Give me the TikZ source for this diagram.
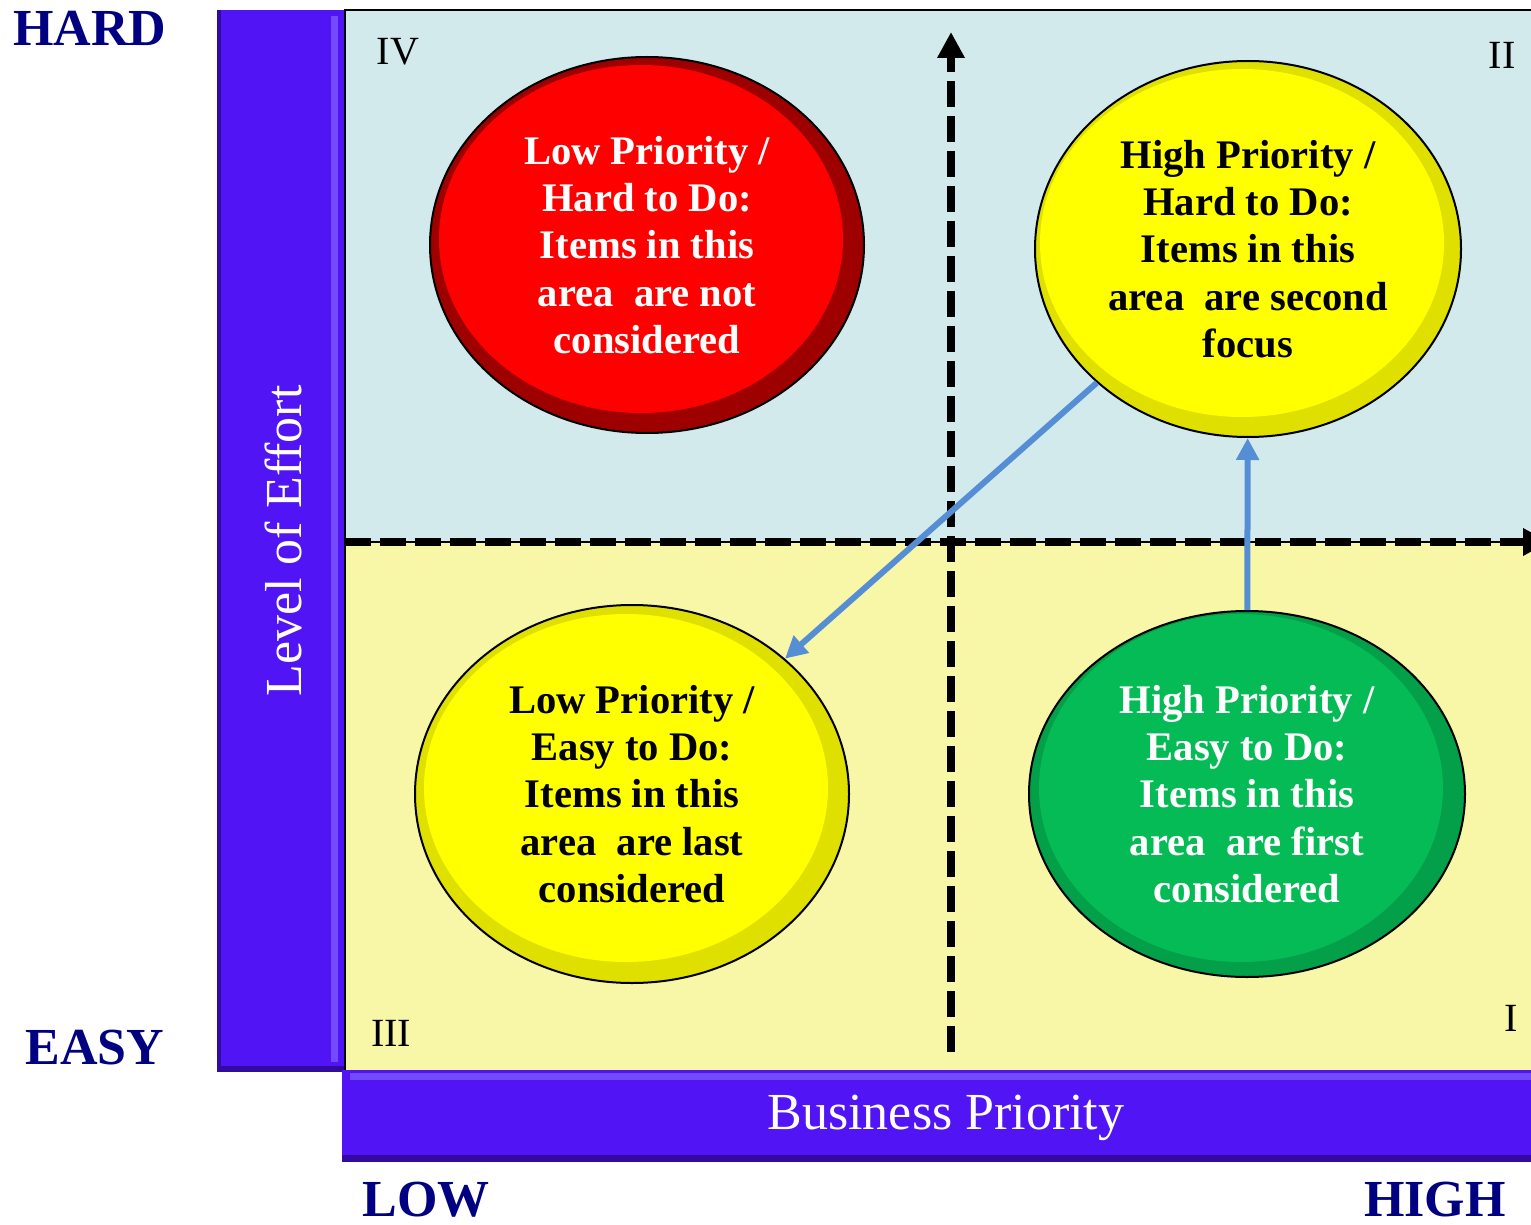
\documentclass[tikz,border=0pt]{standalone}
\usepackage{fontspec}
\setmainfont{Liberation Serif}
\usepackage{xcolor}
\usepackage{tikz}
\usetikzlibrary{shapes.geometric,arrows.meta}
\definecolor{barc}{RGB}{80,20,245}
\definecolor{barl}{RGB}{115,75,255}
\definecolor{bard}{RGB}{50,10,160}
\definecolor{topc}{RGB}{211,234,237}
\definecolor{botc}{RGB}{248,247,168}
\definecolor{navyc}{RGB}{0,0,128}
\definecolor{linkc}{RGB}{85,142,213}
\definecolor{redc}{RGB}{255,0,0}
\definecolor{yelc}{RGB}{255,255,0}
\definecolor{grnc}{RGB}{4,187,86}

\begin{document}
\begin{tikzpicture}[x=0.5pt, y=-0.5pt,
    quad/.style 2 args = {ellipse, draw=black, line width=1pt, fill=#2, inner sep=0pt,
        minimum width=217pt, minimum height=188pt, align=center,
        font=\fontsize{20.3}{23.6}\selectfont\bfseries,
        path picture={\fill[#1] ([xshift=-3pt,yshift=3pt]path picture bounding box.center)
            ellipse [x radius=101pt, y radius=87pt];}},
    num/.style = {font=\fontsize{20}{24}\selectfont},
    ends/.style = {font=\fontsize{26}{30}\selectfont\bfseries, text=navyc},
    title/.style = {font=\fontsize{26}{30}\selectfont, text=white},
    axis/.style = {line width=3.8pt, dash pattern=on 13pt off 4.5pt, -{Triangle[length=13pt,width=13pt]}},
    link/.style = {draw=linkc, line width=3pt, -{Triangle[length=11pt,width=11pt]}}]
        \useasboundingbox (0,0) rectangle (1531,1225);
        \fill[topc] (345,10) rectangle (1531,542);
        \fill[botc] (345,542) rectangle (1531,1070);
        \draw[line width=1pt] (1531,10) -- (345,10) -- (345,1070);
        \draw[line width=1pt] (345,542) -- (1531,542);
        \fill[barc] (217,10) rectangle (344,1072);
        \fill[barl] (331,16) rectangle (338,1062);
        \fill[bard] (217,10) rectangle (221,1072);
        \fill[bard] (217,1066) rectangle (344,1072);
        \fill[barc] (342,1070) rectangle (1531,1162);
        \fill[barl] (350,1073) rectangle (1531,1080);
        \fill[bard] (342,1155) rectangle (1531,1162);
        \coordinate (vb) at (951,1052);
        \coordinate (vt) at (951,32);
        \coordinate (hl) at (345,542);
        \coordinate (hr) at (1549,542);
        \draw[axis] (vb) -- (vt);
        \draw[axis] (hl) -- (hr);
        \node[quad={redc}{redc!62!black}, text=white] (lh) at (647,245) {Low Priority /\\Hard to Do:\\Items in this\\area~~are not\\considered};
        \node[quad={yelc}{yelc!88!black}, minimum width=213pt] (hh) at (1248,249) {High Priority /\\Hard to Do:\\Items in this\\area~~are second\\focus};
        \node[quad={yelc}{yelc!88!black}, minimum height=189pt] (le) at (632,794) {Low Priority /\\Easy to Do:\\Items in this\\area~~are last\\considered};
        \node[quad={grnc}{grnc!85!black}, text=white, minimum width=218pt, minimum height=183pt] (he) at (1247,794) {High Priority /\\Easy to Do:\\Items in this\\area~~are first\\considered};
        \draw[link] (hh) -- (le);
        \draw[link] (he) -- (hh);
        \node[num] (q4) at (398,52) {IV};
        \node[num] (q2) at (1502,55) {II};
        \node[num] (q3) at (391,1033) {III};
        \node[num] (q1) at (1511,1018) {I};
        \node[ends] (hard) at (90,28) {HARD};
        \node[ends] (easy) at (95,1048) {EASY};
        \node[ends] (low) at (426,1200) {LOW};
        \node[ends] (high) at (1435,1200) {HIGH};
        \node[title, rotate=90] (effort) at (283,541) {Level of Effort};
        \node[title] (prio) at (946,1118) {Business Priority};
    \end{tikzpicture}
\end{document}
